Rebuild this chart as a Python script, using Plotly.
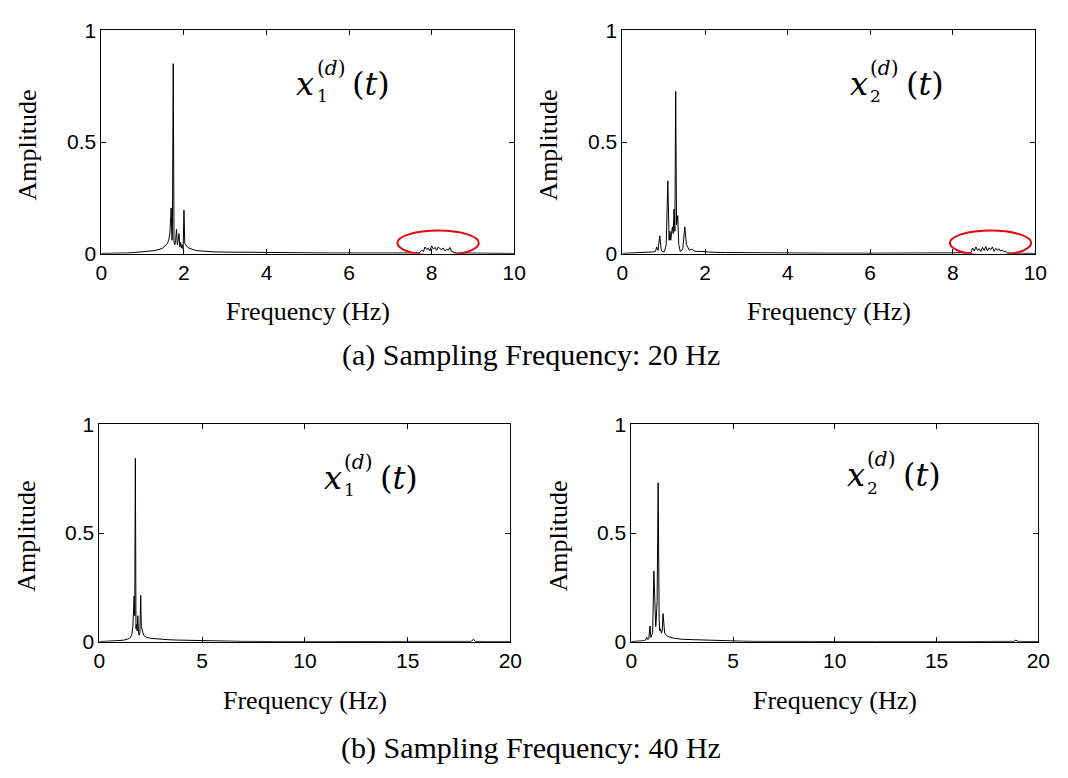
import plotly.graph_objects as go

W, H = 1068, 778

# ---- Spectra, sampling frequency 20 Hz ----
freq_a1 = [0.00, 0.20, 0.40, 0.60, 0.80, 0.90, 1.00, 1.10, 1.20, 1.28, 1.35, 1.42, 1.48, 1.52,
           1.56, 1.60, 1.63, 1.66, 1.69, 1.71, 1.72, 1.74, 1.76, 1.78, 1.80, 1.82, 1.84, 1.86,
           1.88, 1.90, 1.92, 1.94, 1.96, 1.98, 2.00, 2.02, 2.05, 2.08, 2.12, 2.18, 2.25, 2.35,
           2.50, 2.70, 3.00, 3.40, 3.80, 4.20, 4.60, 5.00, 5.50, 6.00, 6.50, 7.00, 7.40, 7.70,
           7.76, 7.80, 7.84, 7.88, 7.92, 7.96, 8.00, 8.04, 8.08, 8.12, 8.16, 8.20, 8.24, 8.28,
           8.32, 8.36, 8.40, 8.44, 8.48, 8.60, 9.00, 9.50, 10.00]
amp_a1 = [0.001, 0.001, 0.002, 0.003, 0.005, 0.006, 0.008, 0.010, 0.012, 0.014, 0.016, 0.020, 0.024, 0.030,
          0.035, 0.045, 0.060, 0.090, 0.205, 0.060, 0.080, 0.851, 0.050, 0.040, 0.060, 0.110, 0.040, 0.060,
          0.090, 0.030, 0.050, 0.025, 0.040, 0.020, 0.195, 0.045, 0.035, 0.030, 0.025, 0.020, 0.016, 0.013,
          0.010, 0.008, 0.007, 0.006, 0.005, 0.004, 0.004, 0.003, 0.003, 0.003, 0.002, 0.002, 0.003, 0.004,
          0.015, 0.010, 0.030, 0.018, 0.025, 0.012, 0.035, 0.020, 0.028, 0.015, 0.030, 0.022, 0.018, 0.025,
          0.012, 0.020, 0.015, 0.028, 0.010, 0.003, 0.002, 0.001, 0.001]

freq_a2 = [0.00, 0.30, 0.50, 0.70, 0.76, 0.80, 0.83, 0.86, 0.905, 0.94, 0.98, 1.02, 1.06, 1.10,
           1.13, 1.15, 1.17, 1.21, 1.23, 1.25, 1.27, 1.29, 1.31, 1.34, 1.365, 1.40, 1.46, 1.51,
           1.55, 1.58, 1.62, 1.66, 1.70, 1.75, 1.80, 1.90, 2.00, 2.20, 2.50, 3.00, 3.50, 4.00,
           5.00, 6.00, 7.00, 8.00, 8.40, 8.44, 8.48, 8.52, 8.56, 8.60, 8.64, 8.68, 8.72, 8.76,
           8.80, 8.84, 8.88, 8.92, 8.96, 9.00, 9.04, 9.08, 9.12, 9.16, 9.20, 9.24, 9.28, 9.32,
           9.50, 10.00]
amp_a2 = [0.001, 0.003, 0.004, 0.005, 0.008, 0.010, 0.030, 0.015, 0.080, 0.015, 0.008, 0.010, 0.040, 0.326,
          0.060, 0.100, 0.060, 0.120, 0.090, 0.200, 0.100, 0.727, 0.130, 0.170, 0.040, 0.010, 0.020, 0.120,
          0.040, 0.030, 0.015, 0.020, 0.018, 0.012, 0.010, 0.010, 0.008, 0.006, 0.005, 0.004, 0.003, 0.003,
          0.002, 0.002, 0.002, 0.002, 0.003, 0.004, 0.025, 0.012, 0.030, 0.015, 0.022, 0.010, 0.028, 0.014,
          0.032, 0.012, 0.026, 0.018, 0.030, 0.010, 0.024, 0.015, 0.022, 0.012, 0.016, 0.008, 0.010, 0.004,
          0.002, 0.001]

# ---- Spectra, sampling frequency 40 Hz ----
freq_b1 = [0.00, 0.50, 0.80, 1.00, 1.20, 1.34, 1.45, 1.52, 1.58, 1.63, 1.69, 1.72, 1.75, 1.78,
           1.80, 1.84, 1.87, 1.90, 1.93, 1.97, 2.01, 2.04, 2.07, 2.11, 2.15, 2.22, 2.31, 2.50,
           2.70, 2.95, 3.30, 3.80, 4.20, 4.55, 5.00, 5.50, 6.10, 6.50, 7.00, 9.00, 12.00, 15.00,
           17.50, 18.10, 18.20, 18.30, 19.00, 20.00]
amp_b1 = [0.001, 0.002, 0.004, 0.006, 0.008, 0.010, 0.015, 0.022, 0.035, 0.070, 0.210, 0.120, 0.844, 0.060,
          0.080, 0.050, 0.120, 0.045, 0.030, 0.040, 0.214, 0.070, 0.060, 0.040, 0.030, 0.025, 0.020, 0.016,
          0.014, 0.012, 0.010, 0.008, 0.007, 0.006, 0.005, 0.004, 0.004, 0.003, 0.002, 0.001, 0.001, 0.001,
          0.001, 0.002, 0.012, 0.002, 0.001, 0.001]

freq_b2 = [0.00, 0.40, 0.60, 0.70, 0.76, 0.82, 0.86, 0.92, 0.96, 1.00, 1.05, 1.11, 1.16, 1.20,
           1.22, 1.25, 1.27, 1.32, 1.35, 1.37, 1.40, 1.43, 1.48, 1.52, 1.56, 1.60, 1.64, 1.72,
           1.80, 2.00, 2.45, 3.00, 3.50, 4.06, 4.50, 5.00, 5.50, 6.00, 8.00, 12.00, 16.00, 18.80,
           18.90, 19.00, 20.00]
amp_b2 = [0.001, 0.003, 0.005, 0.008, 0.020, 0.010, 0.015, 0.073, 0.020, 0.030, 0.040, 0.326, 0.130, 0.070,
          0.090, 0.150, 0.190, 0.732, 0.150, 0.100, 0.050, 0.060, 0.040, 0.050, 0.130, 0.060, 0.040, 0.030,
          0.025, 0.018, 0.012, 0.010, 0.008, 0.006, 0.005, 0.003, 0.003, 0.002, 0.001, 0.001, 0.001, 0.002,
          0.008, 0.002, 0.001]

# Highlighted aliasing regions (frequency span, amplitude span)
ellipse_a1 = ([7.17, 9.14], [-0.009, 0.104])
ellipse_a2 = ([7.93, 9.90], [-0.009, 0.104])

x_ticks_20 = [0, 2, 4, 6, 8, 10]
x_ticks_40 = [0, 5, 10, 15, 20]
y_ticks = [0, 0.5, 1]
y_tick_text = ["0", "0.5", "1"]

captions = ["(a) Sampling Frequency: 20 Hz", "(b) Sampling Frequency: 40 Hz"]

# Subplot boxes in pixels: left, right, top, bottom
boxes = [(97, 517, 19, 249), (627, 1047, 19, 249), (95, 513, 425, 649), (636, 1050, 425, 649)]

def px(x):
    return x / W

def py(y):
    return 1 - y / H

TICK_FONT = dict(family="Liberation Sans, Arial", size=21, color="black")
SERIF = "Liberation Serif, Times New Roman"

fig = go.Figure()

series = [(freq_a1, amp_a1), (freq_a2, amp_a2), (freq_b1, amp_b1), (freq_b2, amp_b2)]
for i, (f, a) in enumerate(series):
    sfx = "" if i == 0 else str(i + 1)
    fig.add_trace(go.Scatter(x=f, y=a, mode="lines", line=dict(color="black", width=1),
                             xaxis="x" + sfx, yaxis="y" + sfx, showlegend=False,
                             cliponaxis=True))

layout = dict(width=W, height=H, margin=dict(l=0, r=0, t=0, b=0),
              paper_bgcolor="white", plot_bgcolor="white", showlegend=False)

for i, (l, r, t, b) in enumerate(boxes):
    sfx = "" if i == 0 else str(i + 1)
    xt = x_ticks_20 if i < 2 else x_ticks_40
    common = dict(showline=True, linecolor="black", linewidth=1, mirror="allticks",
                  ticks="inside", ticklen=5, tickcolor="black", tickwidth=1,
                  showgrid=False, zeroline=False, tickfont=TICK_FONT, fixedrange=True)
    layout["xaxis" + sfx] = dict(domain=[px(l), px(r)], range=[xt[0], xt[-1]],
                                 tickvals=xt, ticktext=[str(v) for v in xt],
                                 anchor="y" + sfx, **common)
    layout["yaxis" + sfx] = dict(domain=[py(b), py(t)], range=[0, 1],
                                 tickvals=y_ticks, ticktext=y_tick_text,
                                 anchor="x" + sfx, **common)

fig.update_layout(**layout)

# Axis titles
ann = []
for (l, r, t, b) in boxes:
    ann.append(dict(text="Frequency (Hz)", x=px((l + r) / 2), y=py(b + 60), xref="paper", yref="paper",
                    showarrow=False, xanchor="center", yanchor="middle",
                    font=dict(family=SERIF, size=26, color="black")))
    ann.append(dict(text="Amplitude", x=px(l - 75), y=py((t + b) / 2 + 3), xref="paper", yref="paper",
                    showarrow=False, xanchor="center", yanchor="middle", textangle=-90,
                    font=dict(family=SERIF, size=26, color="black")))

ann.append(dict(text=captions[0], x=0.5, y=py(353), xref="paper", yref="paper", showarrow=False,
                xanchor="center", yanchor="middle", font=dict(family=SERIF, size=30, color="black")))
ann.append(dict(text=captions[1], x=0.5, y=py(758), xref="paper", yref="paper", showarrow=False,
                xanchor="center", yanchor="middle", font=dict(family=SERIF, size=30, color="black")))

# Signal labels x_k^(d)(t), built from pieces so the index and superscript stack
MATH = "DejaVu Serif"
def signal_label(x0, base, k):
    out = []
    out.append(dict(text="<i>x</i>", x=px(x0), y=py(base - 11), xanchor="left", yanchor="middle",
                    font=dict(family=MATH, size=32, color="black")))
    out.append(dict(text="(<i>d</i>)", x=px(x0 + 21), y=py(base - 27), xanchor="left", yanchor="middle",
                    font=dict(family=MATH, size=20, color="black")))
    out.append(dict(text=str(k), x=px(x0 + 21), y=py(base + 2), xanchor="left", yanchor="middle",
                    font=dict(family=MATH, size=17, color="black")))
    out.append(dict(text="(<i>t</i>)", x=px(x0 + 57), y=py(base - 11), xanchor="left", yanchor="middle",
                    font=dict(family=MATH, size=32, color="black")))
    for o in out:
        o.update(xref="paper", yref="paper", showarrow=False)
    return out

ann += signal_label(293, 85, 1)
ann += signal_label(856, 85, 2)
ann += signal_label(321, 491, 1)
ann += signal_label(853, 488, 2)

fig.update_layout(annotations=ann)

for (xs, ys), ax in [(ellipse_a1, ("x", "y")), (ellipse_a2, ("x2", "y2"))]:
    fig.add_shape(type="circle", xref=ax[0], yref=ax[1], x0=xs[0], x1=xs[1], y0=ys[0], y1=ys[1],
                  line=dict(color="#e8000b", width=2))

fig.write_html("out.html")
